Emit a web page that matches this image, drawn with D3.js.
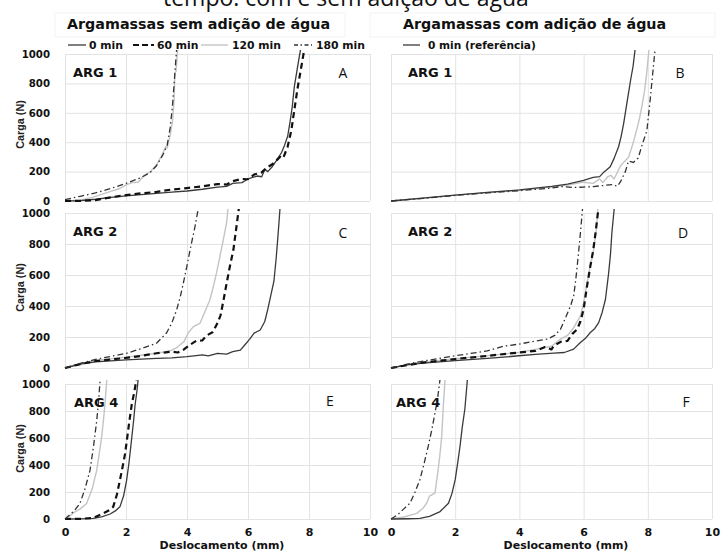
<!DOCTYPE html>
<html><head><meta charset="utf-8">
<script src="https://cdn.jsdelivr.net/npm/d3@7"></script>
<style>body{margin:0;background:#fff} svg{display:block}</style>
</head><body>
<svg id="c" width="721" height="552"></svg>
<script>
// ---------- texts / ticks ----------
const xTicks = [0, 2, 4, 6, 8, 10];
const yTicks = [0, 200, 400, 600, 800, 1000];
const seriesNames = ["0 min", "60 min", "120 min", "180 min"];
const legendRightName = "0 min (referência)";
const panelLetters = ["A", "B", "C", "D", "E", "F"];
const panelArgs = ["ARG 1", "ARG 1", "ARG 2", "ARG 2", "ARG 4", "ARG 4"];
const leftTitle = "Argamassas sem adição de água";
const rightTitle = "Argamassas com adição de água";
const topTitle = "tempo: com e sem adição de água";
const xLabel = "Deslocamento (mm)";
const yLabel = "Carga (N)";

// ---------- data: [deslocamento (mm), carga (N)] ----------
const A_0min = [[0,0],[0.5,3],[1,12],[1.5,25],[2,35],[2.5,44],[3,52],[3.5,60],[4,68],[4.5,80],[5,95],[5.3,100],[5.5,120],[5.8,125],[6.0,150],[6.3,170],[6.45,165],[6.55,215],[6.65,200],[6.8,235],[6.95,280],[7.1,330],[7.2,380],[7.3,440],[7.38,540],[7.45,640],[7.52,780],[7.6,880],[7.68,980],[7.75,1060]];
const A_60min = [[0,0],[0.5,1],[1,6],[1.5,25],[2,40],[2.5,52],[3,62],[3.5,78],[4,88],[4.5,100],[5,115],[5.3,112],[5.5,135],[5.8,150],[6.0,148],[6.2,180],[6.45,195],[6.6,225],[6.8,250],[6.9,270],[7.05,300],[7.15,290],[7.3,370],[7.42,480],[7.52,620],[7.62,760],[7.72,880],[7.82,1000],[7.88,1060]];
const A_120min = [[0,0],[0.5,5],[0.9,25],[1.2,45],[1.5,65],[1.8,85],[2.0,110],[2.2,125],[2.4,128],[2.6,175],[2.8,200],[3.0,245],[3.2,320],[3.3,370],[3.35,360],[3.45,450],[3.53,550],[3.58,700],[3.6,870],[3.64,880],[3.68,1000],[3.72,1060]];
const A_180min = [[0,10],[0.5,32],[1.0,55],[1.5,85],[2.0,120],[2.5,160],[2.8,195],[3.0,240],[3.2,310],[3.35,380],[3.45,500],[3.52,640],[3.58,800],[3.63,950],[3.67,1060]];

const B_0min = [[0,0],[1,20],[2,40],[3,58],[4,75],[5,100],[5.5,115],[6,140],[6.3,160],[6.5,166],[6.6,190],[6.83,233],[6.95,290],[7.09,369],[7.17,440],[7.25,530],[7.33,640],[7.4,735],[7.47,830],[7.54,915],[7.62,1060]];
const B_120min = [[0,0],[1,20],[2,40],[3,57],[4,72],[5,95],[5.5,108],[6,128],[6.3,120],[6.5,150],[6.6,125],[6.75,165],[6.85,175],[6.95,150],[7.15,240],[7.4,297],[7.55,400],[7.65,480],[7.75,570],[7.83,660],[7.9,750],[7.97,880],[8.05,1060]];
const B_180min = [[0,0],[1,18],[2,38],[3,55],[4,70],[5,88],[5.3,98],[5.7,92],[6.0,95],[6.3,98],[6.6,105],[6.9,112],[7.05,100],[7.15,131],[7.3,200],[7.4,272],[7.55,262],[7.7,293],[7.85,400],[7.97,477],[8.07,680],[8.17,905],[8.24,1060]];

const C_0min = [[0,0],[0.5,25],[1,40],[2,52],[3,62],[3.5,65],[4,73],[4.3,80],[4.5,85],[4.7,78],[5,95],[5.3,90],[5.5,105],[5.75,115],[5.9,150],[6.05,185],[6.2,225],[6.4,245],[6.55,300],[6.65,380],[6.75,470],[6.85,560],[6.92,700],[6.97,820],[7.02,950],[7.06,1060]];
const C_60min = [[0,0],[0.5,25],[1,45],[2,65],[2.5,78],[3,95],[3.5,105],[3.7,100],[3.9,120],[4.1,150],[4.3,175],[4.5,178],[4.65,210],[4.85,232],[5.0,290],[5.1,340],[5.2,440],[5.3,547],[5.4,650],[5.52,761],[5.6,880],[5.68,1000],[5.72,1060]];
const C_120min = [[0,0],[0.5,28],[1,48],[2,70],[2.5,82],[3,95],[3.3,105],[3.5,115],[3.65,130],[3.77,150],[3.9,170],[4.04,226],[4.2,265],[4.43,290],[4.6,370],[4.75,439],[4.87,530],[4.97,615],[5.08,720],[5.19,826],[5.3,940],[5.36,1060]];
const C_180min = [[0,0],[0.5,30],[1,55],[1.5,75],[2.02,95],[2.5,125],[3.0,160],[3.33,226],[3.5,290],[3.66,374],[3.78,460],[3.88,547],[4.0,660],[4.1,761],[4.26,910],[4.4,1060]];

const D_0min = [[0,0],[0.5,20],[1,32],[2,47],[3,62],[3.5,70],[3.98,79],[4.5,88],[5.07,96],[5.4,100],[5.69,122],[5.9,165],[6.05,190],[6.21,229],[6.35,255],[6.47,293],[6.58,360],[6.68,442],[6.78,612],[6.84,740],[6.88,869],[6.94,1000],[6.97,1060]];
const D_60min = [[0,0],[0.5,18],[1,35],[2,58],[3,78],[3.98,100],[4.5,110],[4.8,135],[5.0,120],[5.07,143],[5.3,170],[5.5,175],[5.65,220],[5.8,250],[5.9,300],[6.0,378],[6.1,520],[6.21,657],[6.3,760],[6.37,869],[6.48,1060]];
const D_120min = [[0,0],[0.5,22],[1,38],[2,60],[3,80],[3.98,100],[4.5,120],[5.0,140],[5.28,186],[5.5,210],[5.69,260],[5.9,335],[6.0,420],[6.11,548],[6.2,650],[6.31,762],[6.4,900],[6.46,1060]];
const D_180min = [[0,0],[0.5,25],[1,45],[2,79],[3,110],[3.5,140],[3.98,154],[4.4,170],[4.87,186],[5.1,210],[5.28,250],[5.45,330],[5.59,399],[5.69,463],[5.75,560],[5.8,655],[5.9,869],[5.98,1060]];

const E_0min = [[0,0],[0.5,1],[0.93,5],[1.2,15],[1.48,37],[1.65,60],[1.8,90],[1.92,170],[2.02,287],[2.1,420],[2.19,605],[2.25,730],[2.3,850],[2.36,950],[2.41,1060]];
const E_60min = [[0,0],[0.5,1],[0.93,8],[1.26,42],[1.45,65],[1.58,90],[1.7,180],[1.8,287],[1.9,400],[1.97,484],[2.05,620],[2.12,740],[2.19,850],[2.28,950],[2.36,1060]];
const E_120min = [[0,0],[0.15,20],[0.27,45],[0.5,75],[0.71,115],[0.9,230],[1.04,360],[1.12,480],[1.2,605],[1.26,730],[1.31,850],[1.38,1060]];
const E_180min = [[0,0],[0.1,20],[0.3,60],[0.49,115],[0.65,220],[0.82,360],[0.93,530],[1.04,728],[1.1,870],[1.16,1060]];

const F_0min = [[0,0],[0.5,2],[0.9,5],[1.2,20],[1.53,55],[1.79,117],[1.9,190],[2.0,291],[2.08,420],[2.15,539],[2.22,680],[2.3,813],[2.39,1060]];
const F_120min = [[0,0],[0.4,15],[0.8,42],[1.0,80],[1.11,117],[1.2,170],[1.27,179],[1.37,192],[1.42,280],[1.47,366],[1.53,490],[1.58,612],[1.63,836],[1.69,1060]];
const F_180min = [[0,0],[0.2,30],[0.4,75],[0.59,117],[0.75,200],[0.9,291],[1.03,410],[1.16,539],[1.27,660],[1.37,784],[1.45,890],[1.54,1060]];

// ---------- styles ----------
const styleOf = {
  "0 min":   {stroke: "#3a3a3a", width: 1.3, dash: null},
  "60 min":  {stroke: "#111",    width: 2.2, dash: "6,4"},
  "120 min": {stroke: "#c4c4c4", width: 1.4, dash: null},
  "180 min": {stroke: "#333",    width: 1.3, dash: "6,3,1.5,3"}
};

const panelSeries = [
  {"0 min": A_0min, "60 min": A_60min, "120 min": A_120min, "180 min": A_180min},
  {"0 min": B_0min, "120 min": B_120min, "180 min": B_180min},
  {"0 min": C_0min, "60 min": C_60min, "120 min": C_120min, "180 min": C_180min},
  {"0 min": D_0min, "60 min": D_60min, "120 min": D_120min, "180 min": D_180min},
  {"0 min": E_0min, "60 min": E_60min, "120 min": E_120min, "180 min": E_180min},
  {"0 min": F_0min, "120 min": F_120min, "180 min": F_180min}
];

// ---------- layout ----------
const cols = [{x0: 65, x1: 370}, {x0: 391, x1: 712}];
const rows = [{t: 54, b: 201}, {t: 213, b: 368}, {t: 384, b: 519}];
const boldFont = "'DejaVu Sans', Verdana, sans-serif";
const regFont = "'Open Sans', sans-serif";

const svg = d3.select("#c");

// top (cropped) title
svg.append("text").attr("x", 163).attr("y", 6)
  .attr("font-family", regFont).attr("font-size", 23).attr("fill", "#111")
  .text(topTitle);

// subtitle boxes (faint)
svg.append("rect").attr("x", 55).attr("y", 13).attr("width", 290).attr("height", 24).attr("fill", "none").attr("stroke", "#f3f3f3");
svg.append("rect").attr("x", 370).attr("y", 13).attr("width", 345).attr("height", 24).attr("fill", "none").attr("stroke", "#f3f3f3");

svg.append("text").attr("x", 67).attr("y", 29)
  .attr("font-family", boldFont).attr("font-weight", "bold").attr("font-size", 14.3).attr("fill", "#111")
  .text(leftTitle);
svg.append("text").attr("x", 403).attr("y", 29)
  .attr("font-family", boldFont).attr("font-weight", "bold").attr("font-size", 14.3).attr("fill", "#111")
  .text(rightTitle);

// legends
const legLeft = [
  {name: "0 min", lx: 68, len: 18, tx: 89},
  {name: "60 min", lx: 133, len: 21, tx: 157},
  {name: "120 min", lx: 201, len: 27, tx: 232},
  {name: "180 min", lx: 294, len: 18, tx: 316}
];
legLeft.forEach(d => {
  const s = styleOf[d.name];
  svg.append("line").attr("x1", d.lx).attr("x2", d.lx + d.len).attr("y1", 45).attr("y2", 45)
    .attr("stroke", s.stroke).attr("stroke-width", s.width).attr("stroke-dasharray", d.name === "60 min" ? "6,3" : (d.name === "180 min" ? "4,2.5,1.5,2.5" : null));
  svg.append("text").attr("x", d.tx).attr("y", 45).attr("dominant-baseline", "central")
    .attr("font-family", boldFont).attr("font-weight", "bold").attr("font-size", 10.8).attr("fill", "#111")
    .text(d.name);
});
svg.append("line").attr("x1", 403).attr("x2", 420).attr("y1", 45).attr("y2", 45)
  .attr("stroke", styleOf["0 min"].stroke).attr("stroke-width", 1.3);
svg.append("text").attr("x", 428).attr("y", 45).attr("dominant-baseline", "central")
  .attr("font-family", boldFont).attr("font-weight", "bold").attr("font-size", 10.6).attr("fill", "#111")
  .text(legendRightName);

// panels
panelSeries.forEach((ser, i) => {
  const c = cols[i % 2], r = rows[Math.floor(i / 2)];
  const x = d3.scaleLinear().domain([0, 10]).range([c.x0, c.x1]);
  const y = d3.scaleLinear().domain([0, 1000]).range([r.b, r.t]);
  const g = svg.append("g");

  // grid via axes
  g.append("g").attr("transform", `translate(0,${r.b})`)
    .call(d3.axisBottom(x).tickValues(xTicks).tickSize(-(r.b - r.t)).tickFormat(""))
    .call(a => a.select(".domain").remove())
    .call(a => a.selectAll("line").attr("stroke", "#e3e3e3").attr("stroke-width", 1));
  g.append("g").attr("transform", `translate(${c.x0},0)`)
    .call(d3.axisLeft(y).tickValues(yTicks).tickSize(-(c.x1 - c.x0)).tickFormat(""))
    .call(a => a.select(".domain").remove())
    .call(a => a.selectAll("line").attr("stroke", "#e3e3e3").attr("stroke-width", 1));

  // y tick labels on left column
  if (i % 2 === 0) {
    g.append("g").attr("transform", `translate(${c.x0 - 15},0)`)
      .call(d3.axisLeft(y).tickValues(yTicks).tickSize(0).tickPadding(0).tickFormat(d3.format("d")))
      .call(a => a.select(".domain").remove())
      .call(a => a.selectAll("text").attr("font-family", boldFont).attr("font-weight", "bold")
        .attr("font-size", 10.2).attr("fill", "#111"));
    svg.append("text")
      .attr("transform", `translate(24,${(r.t + r.b) / 2 - 3}) rotate(-90)`)
      .attr("text-anchor", "middle")
      .attr("font-family", "'Liberation Sans Narrow', 'Arial Narrow', sans-serif")
      .attr("font-weight", "bold").attr("font-size", 10.8).attr("fill", "#222")
      .text(yLabel);
  }
  // x tick labels bottom row
  if (Math.floor(i / 2) === 2) {
    g.append("g").attr("transform", `translate(0,${r.b + 9})`)
      .call(d3.axisBottom(x).tickValues(xTicks).tickSize(0).tickPadding(0).tickFormat(d3.format("d")))
      .call(a => a.select(".domain").remove())
      .call(a => a.selectAll("text").attr("font-family", boldFont).attr("font-weight", "bold")
        .attr("font-size", 11).attr("fill", "#111"));
    svg.append("text").attr("x", i % 2 === 0 ? 222 : 566).attr("y", 549)
      .attr("text-anchor", "middle")
      .attr("font-family", boldFont).attr("font-weight", "bold").attr("font-size", 11).attr("fill", "#111")
      .text(xLabel);
  }

  // clip
  const cid = "clip" + i;
  svg.append("clipPath").attr("id", cid).append("rect")
    .attr("x", c.x0 - 2).attr("y", r.t - 4).attr("width", c.x1 - c.x0 + 4).attr("height", r.b - r.t + 6);

  const line = d3.line().x(d => x(d[0])).y(d => y(d[1]));
  const lg = g.append("g").attr("clip-path", `url(#${cid})`);
  ["120 min", "0 min", "60 min", "180 min"].forEach(name => {
    if (!ser[name]) return;
    const s = styleOf[name];
    lg.append("path").datum(ser[name]).attr("d", line)
      .attr("fill", "none").attr("stroke", s.stroke).attr("stroke-width", s.width)
      .attr("stroke-dasharray", s.dash).attr("stroke-linejoin", "round");
  });

  // labels
  const argX = i % 2 === 0 ? c.x0 + 8 : c.x0 + 17;
  g.append("text").attr("x", i >= 4 ? (i % 2 === 0 ? c.x0 + 9 : c.x0 + 5) : argX).attr("y", r.t + 18)
    .attr("dominant-baseline", "central")
    .attr("font-family", boldFont).attr("font-weight", "bold").attr("font-size", 13).attr("fill", "#111")
    .text(panelArgs[i]);
  const letterX = [343, 680, 343, 683, 330, 686][i];
  const letterDy = [18, 18, 19, 19, 16, 17][i];
  g.append("text").attr("x", letterX).attr("y", r.t + letterDy)
    .attr("text-anchor", "middle").attr("dominant-baseline", "central")
    .attr("font-family", regFont).attr("font-size", 14).attr("fill", "#111")
    .text(panelLetters[i]);
});
</script>
</body></html>
